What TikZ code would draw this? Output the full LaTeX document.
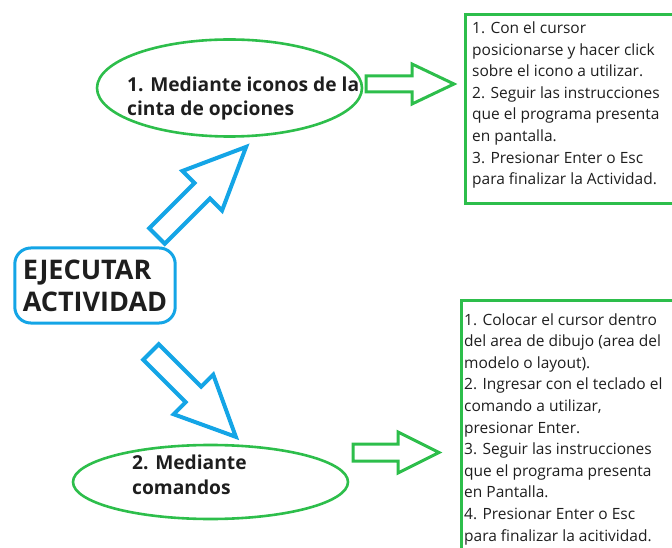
\documentclass[tikz,border=0pt]{standalone}
\usepackage{fontspec}
\setmainfont{Open Sans}
\usetikzlibrary{shapes.geometric}
\definecolor{verde}{RGB}{45,190,75}
\definecolor{azul}{RGB}{20,165,230}
\definecolor{texto}{RGB}{30,30,30}
% flecha gruesa: largo, inicio de la punta, medio ancho del cuerpo, medio ancho de la punta
\newcommand\flechagruesa[4]{(0,-#3) -- (#2,-#3) -- (#2,-#4) -- (#1,0) -- (#2,#4) -- (#2,#3) -- (0,#3) -- cycle}
\tikzset{
  actividad/.style={
    draw=azul, line width=3pt, rounded corners=16pt,
    minimum width=160pt, minimum height=75pt, inner xsep=8pt,
    align=left, text=texto,
    font={\fontsize{27}{32}\selectfont\bfseries}
  },
  opcion/.style={draw=verde, ellipse, line width=2.6pt},
  titulo/.style={
    anchor=west, align=left, inner sep=0pt, text=texto,
    font={\fontsize{19.2}{24.5}\selectfont\bfseries}
  },
  pasos/.style={draw=verde, line width=3pt, anchor=north west},
  lista/.style={
    anchor=west, align=left, inner sep=0pt, text=texto,
    font={\fontsize{15.5}{21.6}\selectfont}
  },
  flecha azul/.style={draw=azul, line width=4pt, line join=miter},
  flecha verde/.style={draw=verde, line width=3pt, line join=miter}
}

\begin{document}
\begin{tikzpicture}[x=1pt,y=-1pt]
\useasboundingbox (0,0) rectangle (672,548);

% centro
\node[actividad] (act) at (95,285.5) {EJECUTAR\\ACTIVIDAD};

% opcion 1
\node[opcion, minimum width=265pt, minimum height=97pt] (op1) at (229.5,88) {};
\node[titulo] (op1txt) at (127,98.5) {1. Mediante iconos de la\\cinta de opciones};
\node[pasos, minimum width=230pt, minimum height=189pt] (caja1) at (464,13) {};
\node[lista] (lista1) at (472,105) {1. Con el cursor\\posicionarse y hacer click\\sobre el icono a utilizar.\\2. Seguir las instrucciones\\que el programa presenta\\en pantalla.\\3. Presionar Enter o Esc\\para finalizar la Actividad.};

% opcion 2
\node[opcion, minimum width=275pt, minimum height=74pt] (op2) at (210.5,482) {};
\node[titulo] (op2txt) at (132,475) {2. Mediante\\comandos};
\node[pasos, minimum width=230pt, minimum height=250pt] (caja2) at (460,299) {};
\node[lista] (lista2) at (464,429) {1. Colocar el cursor dentro\\del area de dibujo (area del\\modelo o layout).\\2. Ingresar con el teclado el\\comando a utilizar,\\presionar Enter.\\3. Seguir las instrucciones\\que el programa presenta\\en Pantalla.\\4. Presionar Enter o Esc\\para finalizar la acitividad.};

% flechas
\draw[flecha azul, shift={(157,236)}, rotate=45] \flechagruesa{126}{64}{11}{28};
\draw[flecha azul, shift={(151,352)}, rotate=-45] \flechagruesa{120}{60}{11}{28};
\draw[flecha verde, shift={(366,84)}] \flechagruesa{88}{46}{8}{20};
\draw[flecha verde, shift={(353,452.5)}] \flechagruesa{86}{45}{8.5}{20.5};
\end{tikzpicture}
\end{document}
